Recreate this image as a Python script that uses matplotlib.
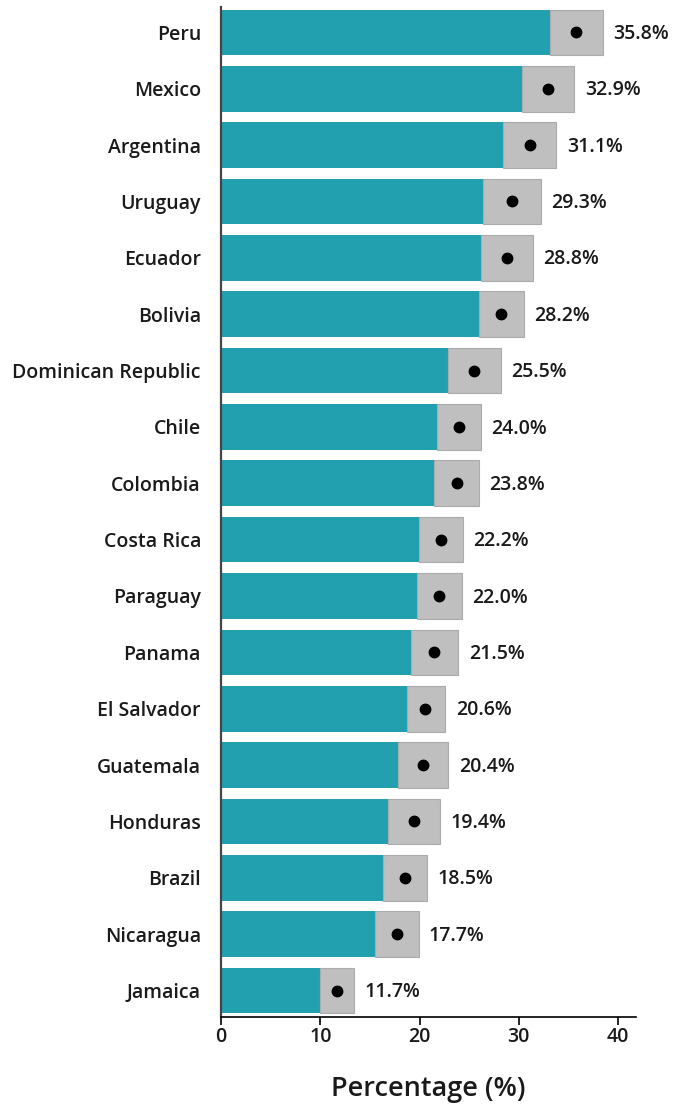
import matplotlib.pyplot as plt
import numpy as np

countries = ["Peru", "Mexico", "Argentina", "Uruguay", "Ecuador", "Bolivia",
             "Dominican Republic", "Chile", "Colombia", "Costa Rica", "Paraguay",
             "Panama", "El Salvador", "Guatemala", "Honduras", "Brazil",
             "Nicaragua", "Jamaica"]
estimate = [35.8, 32.9, 31.1, 29.3, 28.8, 28.2, 25.5, 24.0, 23.8, 22.2, 22.0,
            21.5, 20.6, 20.4, 19.4, 18.5, 17.7, 11.7]
ci_low = [33.1, 30.3, 28.4, 26.4, 26.2, 26.0, 22.9, 21.8, 21.5, 19.9, 19.7,
          19.1, 18.7, 17.8, 16.8, 16.3, 15.5, 10.0]
ci_high = [38.5, 35.6, 33.8, 32.2, 31.4, 30.5, 28.2, 26.2, 26.0, 24.4, 24.3,
           23.9, 22.6, 22.9, 22.1, 20.8, 19.9, 13.4]
x_ticks = [0, 10, 20, 30, 40]

plt.rcParams["font.family"] = ["Open Sans", "DejaVu Sans"]
text_color = "#1a1a1a"

fig = plt.figure(figsize=(6.83, 11.07), dpi=100)
ax = fig.add_axes([0.3236, 0.0813, 0.6074, 0.9124])

n = len(countries)
y = np.arange(n)[::-1]
height = 0.81
ax.barh(y, estimate, height=height, color="#22A0B0", zorder=2)
widths = np.array(ci_high) - np.array(ci_low)
ax.barh(y, widths, left=ci_low, height=height, color="#BFBFBF",
        edgecolor="#ABABAB", linewidth=0.8, zorder=3)
ax.plot(estimate, y, "o", color="black", markersize=7.5, zorder=4)

for yi, hi, est in zip(y, ci_high, estimate):
    ax.annotate(f"{est:.1f}%", (hi, yi), xytext=(7.5, -1.2), textcoords="offset points",
                va="center", ha="left", fontsize=14, fontweight="semibold",
                color=text_color)

ax.set_yticks(y)
ax.set_yticklabels(countries, fontsize=14, fontweight="semibold", color=text_color)
ax.tick_params(axis="y", length=0, pad=14.5)
ax.set_xticks(x_ticks)
ax.set_xticklabels([str(t) for t in x_ticks], fontsize=14, fontweight="semibold",
                   color=text_color)
ax.tick_params(axis="x", length=5.5, width=1.2, pad=1.5)
ax.set_xlim(0, 41.8)
ax.set_ylim(-0.47, n - 1 + 0.45)
ax.set_xlabel("Percentage (%)", fontsize=19.5, fontweight="semibold",
              color=text_color, labelpad=20)

ax.spines["top"].set_visible(False)
ax.spines["right"].set_visible(False)
ax.spines["left"].set_color("#444444")
ax.spines["left"].set_linewidth(1.6)
ax.spines["bottom"].set_color("black")
ax.spines["bottom"].set_linewidth(1.2)

fig.savefig("out.png", dpi=100)
